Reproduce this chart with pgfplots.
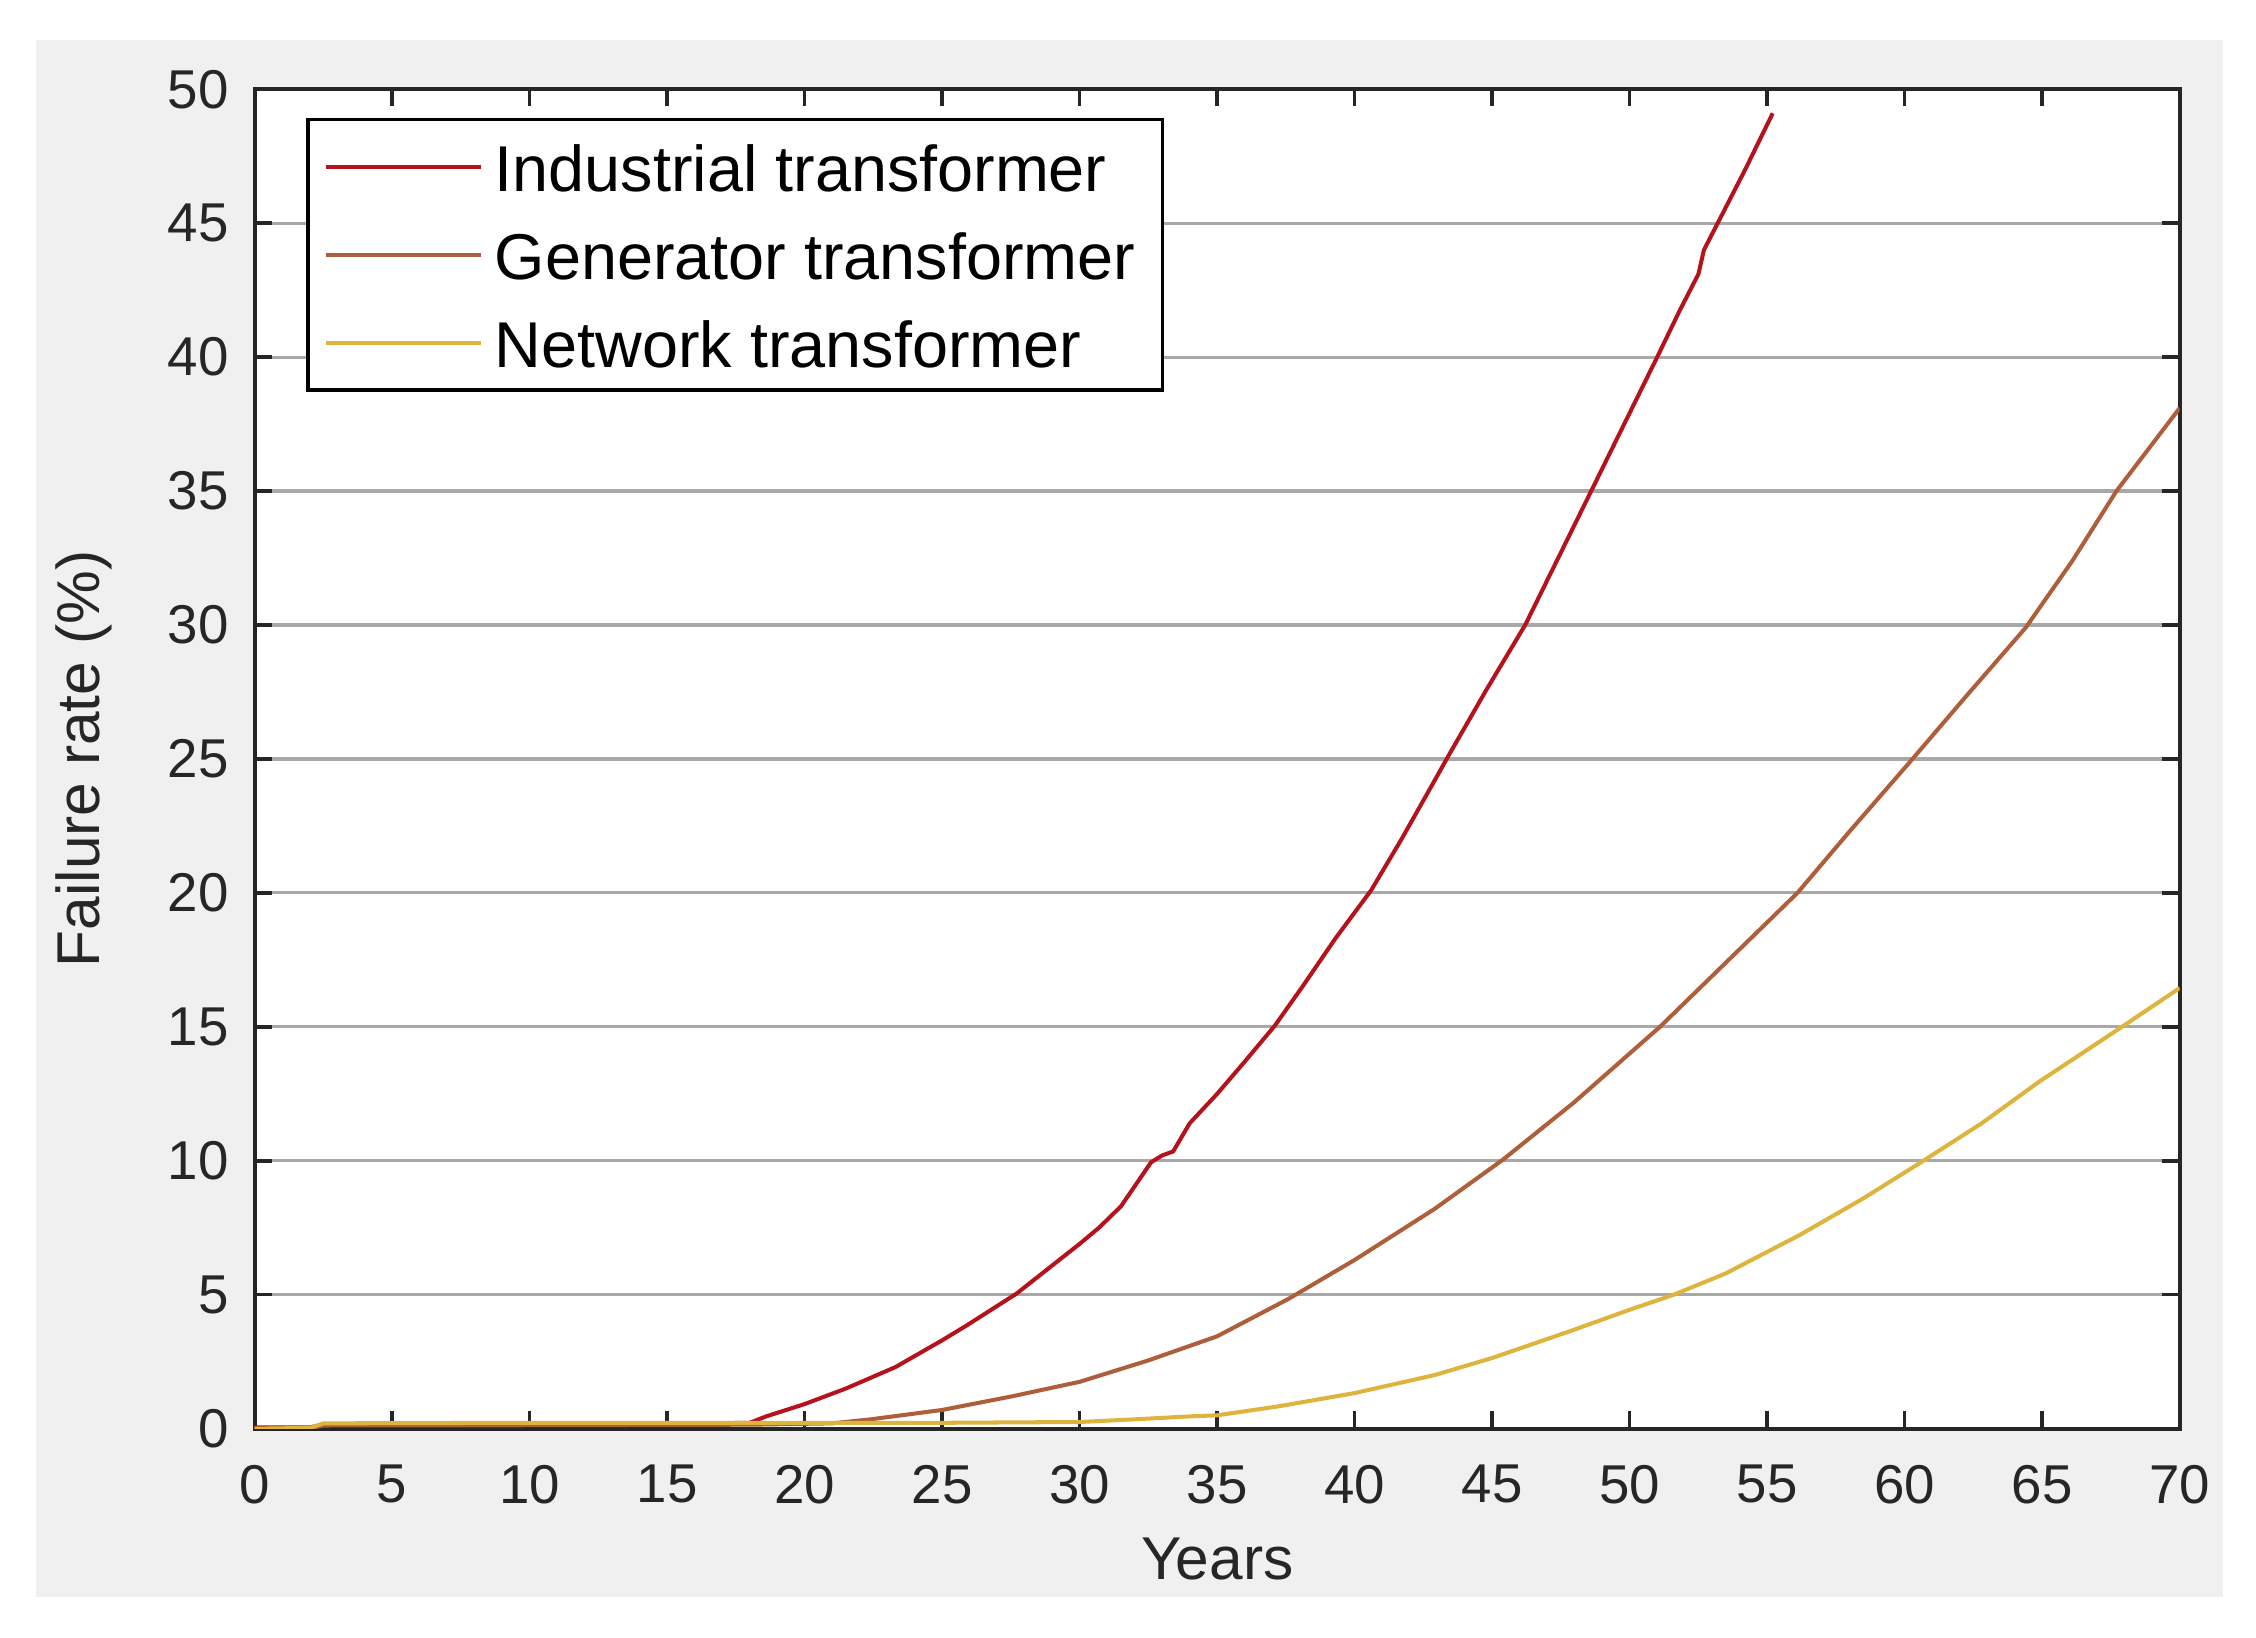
\documentclass[border=0pt]{standalone}
\usepackage{fontspec}
\setmainfont{Liberation Sans}
\usepackage{pgfplots}
\pgfplotsset{compat=1.18}
\definecolor{bgray}{HTML}{F0F0F0}
\definecolor{labgray}{HTML}{262626}
\definecolor{gridgray}{HTML}{A8A8A8}
\definecolor{indred}{HTML}{B5121B}
\definecolor{genbrown}{HTML}{AE5E38}
\definecolor{netgold}{HTML}{DDB43C}
\begin{document}
\begin{tikzpicture}
\fill[white] (0,0) rectangle (392pt,284.5pt);
\fill[bgray] (6.25pt,7pt) rectangle (386.25pt,277.5pt);
\begin{axis}[
  at={(44.25pt,36.25pt)}, anchor=south west,
  scale only axis, width=334.5pt, height=232.75pt,
  xmin=0, xmax=70, ymin=0, ymax=50,
  xtick={0,5,...,70}, ytick={0,5,...,50},
  tick align=inside, major tick length=3pt, tick pos=both,
  ymajorgrids, grid style={gridgray, line width=0.55pt},
  axis line style={labgray, line width=0.7pt},
  tick style={labgray, line width=0.6pt},
  axis background/.style={fill=white},
  ticklabel style={font=\fontsize{9.5}{11}\selectfont, text=labgray},
  /pgf/number format/assume math mode=true,
  xticklabel style={yshift=-2.8pt},
  yticklabel style={xshift=-1pt},
  xlabel={Years}, ylabel={Failure rate (\%)},
  label style={font=\fontsize{10.5}{12.6}\selectfont, text=labgray},
  xlabel style={at={(axis description cs:0.5,0)}, anchor=base, yshift=-26.25pt},
  ylabel style={at={(axis description cs:0,0.5)}, anchor=base, yshift=26.9pt},
  legend style={at={(0,1)}, anchor=north west, xshift=9pt, yshift=-5pt,
    font=\fontsize{11.25}{13.5}\selectfont, draw=black, line width=0.6pt, fill=white,
    inner xsep=2.75pt, inner ysep=0.9pt, row sep=0.7pt,
    nodes={inner sep=2pt, text height=8.3pt, text depth=2.3pt}, cells={anchor=west}},
  legend image code/.code={\draw[#1] (0pt,0pt) -- (27pt,0pt);},
]
\addplot[indred, line width=0.7pt] coordinates {
(0,0.05) (2,0.05) (2.5,0.15) (10,0.17) (15,0.18) (18,0.22) (18.6,0.46) (20,0.92)
(21.5,1.5) (23.3,2.3) (25,3.3) (25.9,3.86) (27.7,5.04) (30,6.9) (30.7,7.5)
(31.5,8.3) (32.6,9.95) (33.0,10.2) (33.4,10.35) (34.0,11.4) (35,12.5) (36,13.7)
(37.1,15.05) (38.1,16.5) (39.3,18.3) (40.6,20.1) (41.7,22.0) (42.8,24.0) (43.4,25.1)
(44.8,27.6) (46.2,30) (47.4,32.5) (48.6,35) (49.8,37.5) (51.0,40) (51.8,41.7)
(52.5,43.1) (52.7,44.0) (53.2,45) (54.2,47) (55.2,49.1)
};
\addlegendentry{\raisebox{-1.3pt}{Industrial transformer}}
\addplot[genbrown, line width=0.7pt] coordinates {
(0,0) (2,0.02) (2.5,0.12) (10,0.13) (18,0.15) (21,0.2) (22.4,0.35) (25,0.7)
(27.5,1.2) (30,1.75) (32.5,2.55) (35,3.45) (37.6,4.85) (40,6.3) (42.9,8.2)
(45.4,10.05) (48,12.2) (51.1,15) (53.5,17.4) (56.1,20) (58,22.3) (60.2,24.9)
(62.2,27.3) (64.4,29.9) (66.1,32.4) (67.7,35) (70,38.1)
};
\addlegendentry{\raisebox{-1.3pt}{Generator transformer}}
\addplot[netgold, line width=0.7pt] coordinates {
(0,0) (2,0.03) (2.5,0.2) (10,0.22) (20,0.22) (25,0.22) (30,0.25) (32,0.35)
(34,0.46) (35,0.5) (37.2,0.83) (40,1.33) (42.9,2.0) (45,2.64) (47.8,3.63)
(50,4.44) (51.6,5.0) (53.5,5.8) (56.2,7.24) (58.5,8.6) (60.6,9.95) (62.8,11.4)
(64.9,12.96) (67.9,15) (70,16.45)
};
\addlegendentry{\raisebox{-1.3pt}{Network transformer}}
\end{axis}
\pgfresetboundingbox
\path (0,0) rectangle (392pt,284.5pt);
\end{tikzpicture}
\end{document}
